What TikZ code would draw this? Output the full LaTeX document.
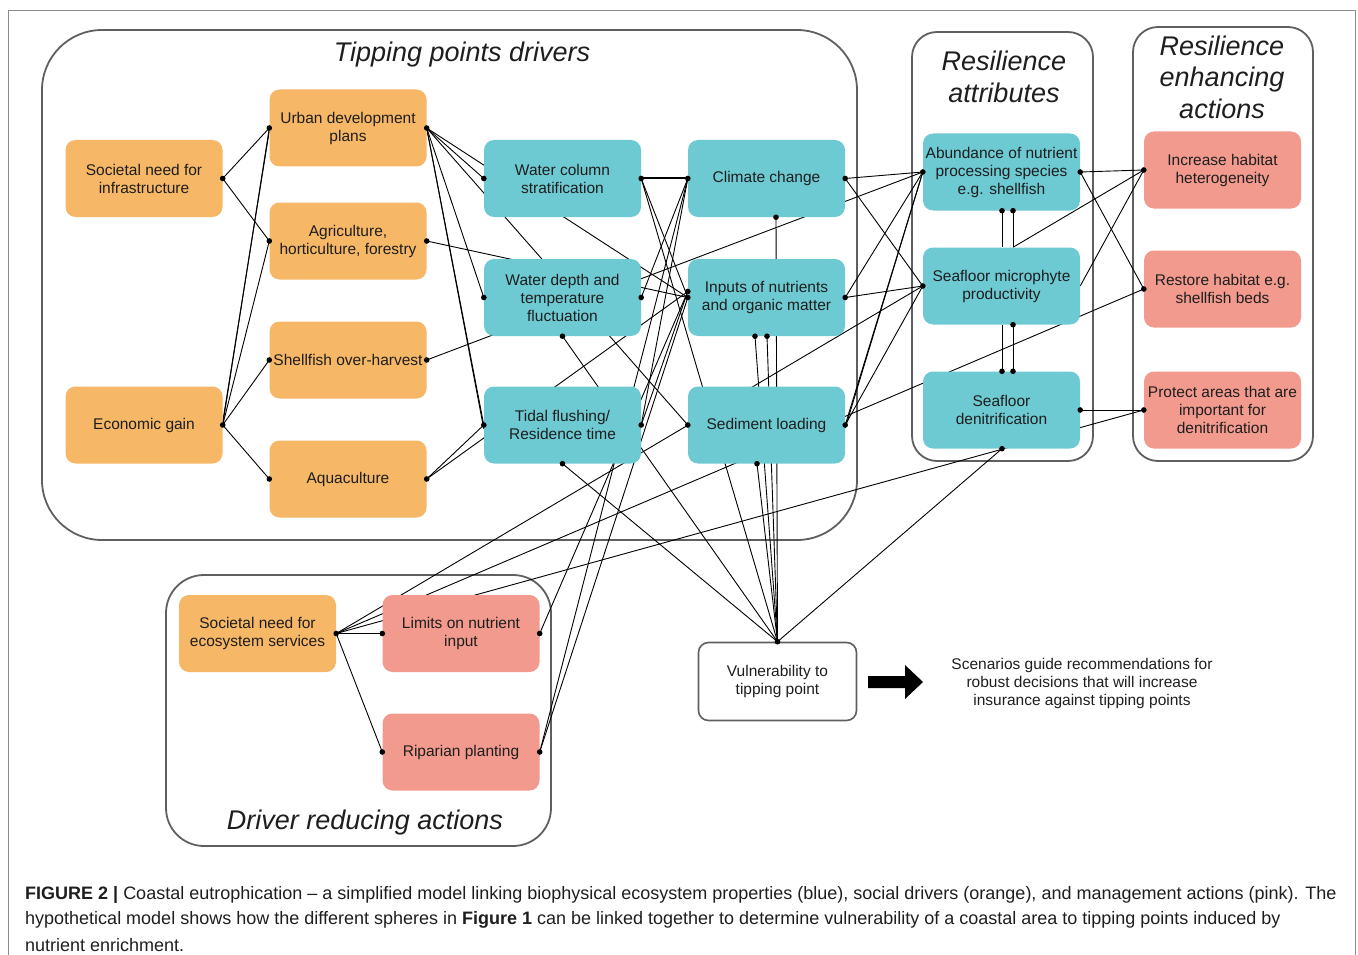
\documentclass[tikz,border=0pt]{standalone}
\usepackage{fontspec}
\setmainfont{Liberation Sans}
\newfontfamily\capfont{Liberation Sans}
\usetikzlibrary{calc}
\definecolor{corange}{RGB}{246,183,102}
\definecolor{cblue}{RGB}{110,202,210}
\definecolor{cpink}{RGB}{242,154,142}
\definecolor{cgray}{RGB}{95,95,95}
\definecolor{ctext}{RGB}{30,30,30}
\pgfdeclarelayer{bg}
\pgfsetlayers{bg,main}
\begin{document}
\begin{tikzpicture}[x=1pt,y=-1pt,
  box/.style={rounded corners=10pt, minimum width=157pt, minimum height=77pt, inner sep=1pt,
    align=center, font=\fontsize{15.5}{18}\selectfont, text=ctext},
  obox/.style={box, fill=corange},
  bbox/.style={box, fill=cblue},
  pbox/.style={box, fill=cpink},
  cont/.style={draw=cgray, line width=1.8pt},
  lnk/.style={line width=0.9pt, black},
  ttl/.style={font=\fontsize{27}{32}\selectfont\itshape, align=center, text=ctext},
  plain/.style={font=\fontsize{15.5}{18}\selectfont, align=center, text=ctext}
]
\useasboundingbox (0,0) rectangle (1358,955);
% outer frame
\draw[black!45, line width=0.8pt] (8,960) -- (8,10) -- (1355,10) -- (1355,960);

% nodes
\node[obox] (socinf) at (144,178.5) {Societal need for\\infrastructure};
\node[obox] (econ)   at (144,425) {Economic gain};
\node[obox] (urban)  at (348,128) {Urban development\\plans};
\node[obox] (agri)   at (348,241) {Agriculture,\\horticulture, forestry};
\node[obox] (shell)  at (348,360) {Shellfish over-harvest};
\node[obox] (aqua)   at (348,479) {Aquaculture};
\node[bbox] (wcol)   at (562.5,178.5) {Water column\\stratification};
\node[bbox] (wdep)   at (562.5,297.5) {Water depth and\\temperature\\fluctuation};
\node[bbox] (tidal)  at (562.5,425) {Tidal flushing/\\Residence time};
\node[bbox] (clim)   at (766.5,178.5) {Climate change};
\node[bbox] (inputs) at (766.5,297.5) {Inputs of nutrients\\and organic matter};
\node[bbox] (sed)    at (766.5,425) {Sediment loading};
\node[bbox] (abund)  at (1001.5,172) {Abundance of nutrient\\processing species\\e.g. shellfish};
\node[bbox] (micro)  at (1001.5,286) {Seafloor microphyte\\productivity};
\node[bbox] (denit)  at (1001.5,410) {Seafloor\\denitrification};
\node[pbox] (incr)   at (1222.5,170) {Increase habitat\\heterogeneity};
\node[pbox] (rest)   at (1222.5,289) {Restore habitat e.g.\\shellfish beds};
\node[pbox] (prot)   at (1222.5,410) {Protect areas that are\\important for\\denitrification};
\node[obox] (soceco) at (257.5,633.5) {Societal need for\\ecosystem services};
\node[pbox] (limits) at (461,633.5) {Limits on nutrient\\input};
\node[pbox] (rip)    at (461,752) {Riparian planting};
\node[box, fill=white, draw=cgray, line width=1.6pt, minimum width=158pt, minimum height=78pt] (vuln) at (777.5,681.5) {Vulnerability to\\tipping point};

% extra anchor points
\coordinate (in2)   at ($(inputs.west)+(0,-6)$);
\coordinate (inB1)  at ($(inputs.south)+(-11.5,0)$);
\coordinate (inB2)  at ($(inputs.south)+(0.5,0)$);
\coordinate (climS) at ($(clim.south)+(9.5,0)$);
\coordinate (sedB)  at ($(sed.south)+(-9.5,0)$);
\coordinate (abB1)  at ($(abund.south)+(0.5,0)$);
\coordinate (abB2)  at ($(abund.south)+(11.5,0)$);
\coordinate (miT1)  at ($(micro.north)+(0.5,0)$);
\coordinate (miT2)  at ($(micro.north)+(11.5,0)$);
\coordinate (miB1)  at ($(micro.south)+(0.5,0)$);
\coordinate (miB2)  at ($(micro.south)+(11.5,0)$);
\coordinate (deT1)  at ($(denit.north)+(0.5,0)$);
\coordinate (deT2)  at ($(denit.north)+(11.5,0)$);
\coordinate (deB)   at ($(denit.south)+(0.5,0)$);

\begin{pgfonlayer}{bg}
% containers
\draw[cont, rounded corners=60pt] (42,30) rectangle (857,540);
\draw[cont, rounded corners=25pt] (912,32) rectangle (1093,461);
\draw[cont, rounded corners=25pt] (1133,27) rectangle (1313,461);
\draw[cont, rounded corners=38pt] (166,575) rectangle (551,846);
% connectors: social drivers
\draw[lnk] (socinf.east) -- (urban.west);
\draw[lnk] (socinf.east) -- (agri.west);
\draw[lnk] (econ.east) -- (urban.west);
\draw[lnk] ([yshift=3pt]econ.east) -- ([yshift=-3pt]urban.west);
\draw[lnk] (econ.east) -- (agri.west);
\draw[lnk] (econ.east) -- (shell.west);
\draw[lnk] (econ.east) -- (aqua.west);
\draw[lnk] (urban.east) -- (wcol.west);
\draw[lnk] (urban.east) -- (inputs.west);
\draw[lnk] (urban.east) -- (sed.west);
\draw[lnk] (urban.east) -- (wdep.west);
\draw[lnk] (urban.east) -- (tidal.west);
\draw[lnk] (urban.east) -- ([yshift=-4pt]tidal.west);
\draw[lnk] (agri.east) -- (inputs.west);
\draw[lnk] (shell.east) -- (abund.west);
\draw[lnk] (aqua.east) -- (tidal.west);
\draw[lnk] (aqua.east) -- (in2);
% biophysical
\draw[lnk] (wcol.east) -- (clim.west);
\draw[lnk] ([yshift=1.5pt]wcol.east) -- ([yshift=1.5pt]clim.west);
\draw[lnk] (wcol.east) -- (vuln.north);
\draw[lnk] (wcol.east) -- (inputs.west);
\draw[lnk] (wdep.east) -- (clim.west);
\draw[lnk] (wdep.south) -- (vuln.north);
\draw[lnk] (tidal.east) -- (clim.west);
\draw[lnk] (tidal.east) -- (in2);
\draw[lnk] (tidal.south) -- (vuln.north);
\draw[lnk] (limits.east) -- (in2);
\draw[lnk] (rip.east) -- (inputs.west);
\draw[lnk] (rip.east) -- (clim.west);
\draw[lnk] (clim.east) -- (abund.west);
\draw[lnk] (clim.east) -- (micro.west);
\draw[lnk] (climS) -- (vuln.north);
\draw[lnk] (inputs.east) -- (abund.west);
\draw[lnk] (inputs.east) -- (micro.west);
\draw[lnk] (inB1) -- (vuln.north);
\draw[lnk] (inB2) -- (vuln.north);
\draw[lnk] (sedB) -- (vuln.north);
\draw[lnk] (sed.east) -- (abund.west);
\draw[lnk] ([yshift=-3pt]sed.east) -- (abund.west);
\draw[lnk] (sed.east) -- (micro.west);
% driver reducing actions
\draw[lnk] (soceco.east) -- (micro.west);
\draw[lnk] (soceco.east) -- (rest.west);
\draw[lnk] (soceco.east) -- (prot.west);
\draw[lnk] (soceco.east) -- (limits.west);
\draw[lnk] (soceco.east) -- (rip.west);
\draw[lnk] (vuln.north) -- (deB);
% resilience
\draw[lnk] (abB1) -- (miT1);
\draw[lnk] (abB2) -- (miT2);
\draw[lnk] (miB1) -- (deT1);
\draw[lnk] (miB2) -- (deT2);
\draw[lnk] (abund.east) -- (incr.west);
\draw[lnk] (abund.east) -- (rest.west);
\draw[lnk] (miT2) -- (incr.west);
\draw[lnk] (micro.east) -- (incr.west);
\draw[lnk] (denit.east) -- (prot.west);
\end{pgfonlayer}

% dots
\foreach \p in {socinf.east,econ.east,urban.west,urban.east,agri.west,agri.east,shell.west,shell.east,
  aqua.west,aqua.east,wcol.west,wcol.east,wdep.west,wdep.east,wdep.south,tidal.west,tidal.east,tidal.south,
  clim.west,clim.east,climS,inputs.west,in2,inputs.east,inB1,inB2,sed.west,sed.east,sedB,
  abund.west,abund.east,abB1,abB2,micro.west,miB2,deT1,deT2,denit.east,deB,incr.west,rest.west,prot.west,
  soceco.east,limits.west,limits.east,rip.west,rip.east,vuln.north}
  \fill[black] (\p) circle[radius=2.8pt];

% titles
\node[ttl] (ttpd) at (462,55) {Tipping points drivers};
\node[ttl] (tra) at (1004,77) {Resilience\\attributes};
\node[ttl, font=\fontsize{27}{31.5}\selectfont\itshape] (trea) at (1222,77) {Resilience\\enhancing\\actions};
\node[ttl] (tdra) at (365,823) {Driver reducing actions};

% arrow and scenario text
\fill[black] (868,676) -- (905,676) -- (905,665) -- (923,682) -- (905,699) -- (905,688) -- (868,688) -- cycle;
\node[plain] (scen) at (1082,683) {Scenarios guide recommendations for\\robust decisions that will increase\\insurance against tipping points};

% caption
\node[anchor=west, inner sep=0pt, font=\capfont\fontsize{18}{25}\selectfont, text=ctext] (cap1) at (25,895)
  {\textbf{FIGURE 2 |} Coastal eutrophication – a simplified model linking biophysical ecosystem properties (blue), social drivers (orange), and management actions (pink). The};
\node[anchor=west, inner sep=0pt, font=\capfont\fontsize{18}{25}\selectfont, text=ctext] (cap2) at (25,920)
  {hypothetical model shows how the different spheres in \textbf{Figure 1} can be linked together to determine vulnerability of a coastal area to tipping points induced by};
\node[anchor=west, inner sep=0pt, font=\capfont\fontsize{18}{25}\selectfont, text=ctext] (cap3) at (25,945)
  {nutrient enrichment.};
\end{tikzpicture}
\end{document}
